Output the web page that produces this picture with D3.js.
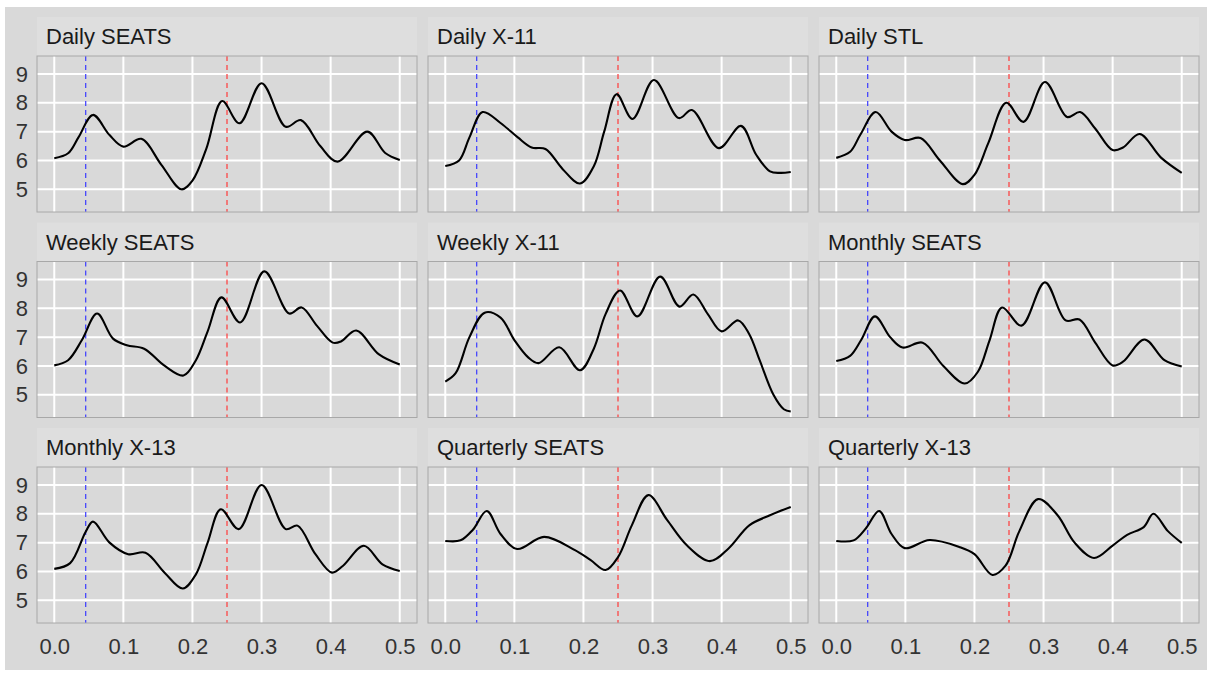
<!DOCTYPE html>
<html><head><meta charset="utf-8">
<script src="https://cdn.jsdelivr.net/npm/d3@7"></script>
<style>body{margin:0;background:#fff}svg{display:block}</style>
</head><body>
<svg id="c" width="1212" height="675"></svg>
<script>
const panelTitles = ["Daily SEATS","Daily X-11","Daily STL","Weekly SEATS","Weekly X-11","Monthly SEATS","Monthly X-13","Quarterly SEATS","Quarterly X-13"];
const xTicks = [0.0,0.1,0.2,0.3,0.4,0.5];
const yTicks = [5,6,7,8,9];
const blueLine = 0.0455;
const redLine = 0.25;

const dailySeats = [[0,6.08],[0.02,6.25],[0.035,6.8],[0.056,7.58],[0.08,6.88],[0.1,6.48],[0.126,6.75],[0.155,5.85],[0.184,5.0],[0.2,5.3],[0.22,6.4],[0.243,8.06],[0.268,7.29],[0.3,8.68],[0.335,7.17],[0.357,7.4],[0.385,6.5],[0.41,5.96],[0.453,7.0],[0.479,6.26],[0.5,6.02]];
const dailyX11 = [[0,5.81],[0.02,6.0],[0.035,6.8],[0.054,7.68],[0.08,7.3],[0.105,6.8],[0.125,6.45],[0.145,6.4],[0.17,5.7],[0.195,5.2],[0.215,5.8],[0.23,7.0],[0.248,8.3],[0.271,7.44],[0.302,8.79],[0.338,7.47],[0.357,7.75],[0.396,6.43],[0.428,7.2],[0.45,6.2],[0.47,5.62],[0.485,5.57],[0.5,5.6]];
const dailyStl = [[0,6.09],[0.02,6.3],[0.035,6.9],[0.057,7.68],[0.08,7.0],[0.099,6.71],[0.122,6.78],[0.15,6.0],[0.183,5.18],[0.2,5.5],[0.22,6.6],[0.246,8.0],[0.271,7.34],[0.302,8.72],[0.334,7.51],[0.353,7.68],[0.375,7.1],[0.4,6.36],[0.415,6.45],[0.439,6.92],[0.47,6.1],[0.5,5.57]];
const weeklySeats = [[0,6.02],[0.02,6.2],[0.04,6.9],[0.062,7.82],[0.085,6.95],[0.105,6.72],[0.13,6.6],[0.16,6.0],[0.187,5.67],[0.205,6.2],[0.222,7.2],[0.242,8.38],[0.269,7.51],[0.304,9.28],[0.34,7.82],[0.358,8.03],[0.38,7.4],[0.403,6.81],[0.415,6.85],[0.437,7.23],[0.47,6.4],[0.5,6.05]];
const weeklyX11 = [[0,5.46],[0.015,5.75],[0.035,7.0],[0.057,7.85],[0.08,7.68],[0.1,6.9],[0.12,6.3],[0.135,6.1],[0.165,6.65],[0.195,5.85],[0.215,6.6],[0.232,7.8],[0.253,8.62],[0.278,7.72],[0.311,9.1],[0.339,8.06],[0.359,8.48],[0.38,7.8],[0.4,7.2],[0.424,7.58],[0.44,7.1],[0.455,6.2],[0.475,5.0],[0.49,4.5],[0.5,4.42]];
const monthlySeats = [[0,6.17],[0.02,6.35],[0.036,6.9],[0.056,7.72],[0.078,7.0],[0.096,6.64],[0.125,6.81],[0.155,6.0],[0.186,5.39],[0.205,5.8],[0.222,6.9],[0.24,8.03],[0.268,7.4],[0.302,8.9],[0.332,7.58],[0.352,7.61],[0.375,6.8],[0.4,6.02],[0.415,6.15],[0.446,6.92],[0.475,6.2],[0.5,5.98]];
const monthlyX13 = [[0,6.09],[0.023,6.29],[0.0455,7.38],[0.056,7.73],[0.08,7.0],[0.107,6.6],[0.132,6.65],[0.16,5.95],[0.186,5.41],[0.205,5.9],[0.222,7.0],[0.241,8.16],[0.267,7.47],[0.3,9.0],[0.335,7.47],[0.352,7.59],[0.378,6.6],[0.402,5.96],[0.418,6.2],[0.448,6.89],[0.475,6.25],[0.5,6.02]];
const quarterlySeats = [[0,7.06],[0.022,7.08],[0.04,7.45],[0.06,8.1],[0.08,7.3],[0.104,6.78],[0.143,7.2],[0.187,6.75],[0.21,6.4],[0.232,6.05],[0.25,6.5],[0.27,7.6],[0.294,8.65],[0.321,7.79],[0.35,6.9],[0.383,6.36],[0.41,6.8],[0.44,7.6],[0.47,7.95],[0.5,8.24]];
const quarterlyX13 = [[0,7.06],[0.025,7.08],[0.043,7.5],[0.062,8.1],[0.08,7.3],[0.099,6.81],[0.135,7.09],[0.178,6.85],[0.2,6.6],[0.226,5.88],[0.245,6.2],[0.265,7.4],[0.292,8.51],[0.32,7.96],[0.345,7.0],[0.373,6.47],[0.4,6.9],[0.421,7.27],[0.445,7.54],[0.459,8.0],[0.48,7.4],[0.5,6.99]];

const series = [dailySeats,dailyX11,dailyStl,weeklySeats,weeklyX11,monthlySeats,monthlyX13,quarterlySeats,quarterlyX13];

const svg = d3.select("#c");
const font = "'Liberation Sans', Arial, sans-serif";
svg.append("rect").attr("x",5).attr("y",7).attr("width",1202).attr("height",663).attr("fill","#d9d9d9");

const left = 37, top0 = 17, pw = 380, ph = 156, stripH = 39, hgap = 11, vgap = 10.5;
const x = d3.scaleLinear().domain([-0.025,0.525]).range([0,pw]);
const y = d3.scaleLinear().domain([4.213,9.624]).range([ph,0]);
const line = d3.line().x(d=>x(d[0])).y(d=>y(d[1])).curve(d3.curveCatmullRom.alpha(0.5));

panelTitles.forEach((t,i)=>{
  const col = i%3, row = Math.floor(i/3);
  const px = left + col*(pw+hgap);
  const sy = top0 + row*(stripH+ph+vgap);
  const py = sy + stripH;
  const g = svg.append("g");
  g.append("rect").attr("x",px).attr("y",sy).attr("width",pw).attr("height",stripH).attr("fill","#dedede");
  g.append("text").attr("x",px+9).attr("y",sy+27).attr("font-family",font).attr("font-size",22).attr("fill","#1a1a1a").text(t);
  const p = g.append("g").attr("transform",`translate(${px},${py})`);
  p.append("rect").attr("width",pw).attr("height",ph).attr("fill","#d9d9d9");
  p.selectAll(".gx").data(xTicks).join("line").attr("x1",d=>x(d)).attr("x2",d=>x(d)).attr("y1",0).attr("y2",ph).attr("stroke","#fff").attr("stroke-width",2);
  p.selectAll(".gy").data(yTicks).join("line").attr("y1",d=>y(d)).attr("y2",d=>y(d)).attr("x1",0).attr("x2",pw).attr("stroke","#fff").attr("stroke-width",2);
  p.append("line").attr("x1",x(blueLine)).attr("x2",x(blueLine)).attr("y1",0).attr("y2",ph).attr("stroke","#3a3aff").attr("stroke-width",1.2).attr("stroke-dasharray","5,4");
  p.append("line").attr("x1",x(redLine)).attr("x2",x(redLine)).attr("y1",0).attr("y2",ph).attr("stroke","#ff3a3a").attr("stroke-width",1.2).attr("stroke-dasharray","5,4");
  p.append("path").datum(series[i]).attr("d",line).attr("fill","none").attr("stroke","#000").attr("stroke-width",2.1);
  p.append("rect").attr("width",pw).attr("height",ph).attr("fill","none").attr("stroke","#a8a8a8").attr("stroke-width",1);
  if(col===0){
    const ya = p.append("g").call(d3.axisLeft(y).tickValues(yTicks).tickSize(0).tickPadding(9).tickFormat(d3.format("d")));
    ya.select(".domain").remove();
    ya.selectAll("text").attr("font-family",font).attr("font-size",22).attr("fill","#333");
  }
  if(row===2){
    const xa = p.append("g").attr("transform",`translate(0,${ph})`).call(d3.axisBottom(x).tickValues(xTicks).tickSize(0).tickPadding(15).tickFormat(d3.format(".1f")));
    xa.select(".domain").remove();
    xa.selectAll("text").attr("font-family",font).attr("font-size",22).attr("fill","#333");
  }
});
</script>
</body></html>
